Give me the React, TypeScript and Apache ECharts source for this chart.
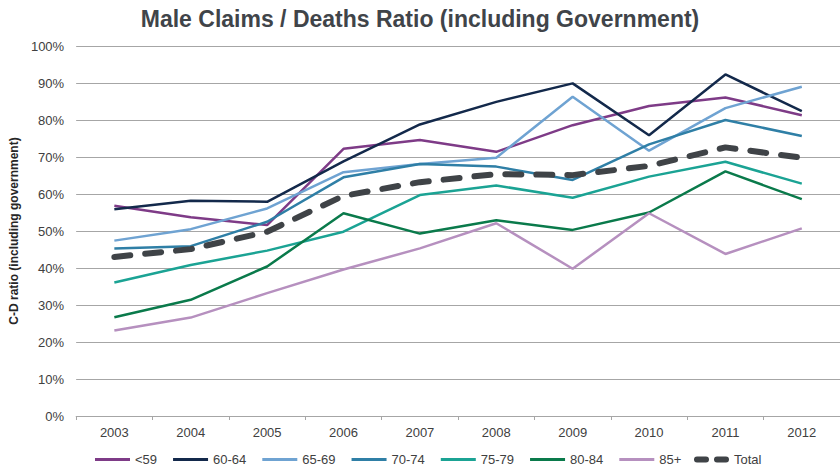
import React, { useEffect, useRef } from "react";
import * as echarts from "echarts";

const years = ["2003", "2004", "2005", "2006", "2007", "2008", "2009", "2010", "2011", "2012"];
const seriesNames = ["<59", "60-64", "65-69", "70-74", "75-79", "80-84", "85+", "Total"];
const under59 = [56.8, 53.7, 51.6, 72.2, 74.6, 71.4, 78.6, 83.8, 86.1, 81.3];
const age60_64 = [55.9, 58.2, 57.9, 68.8, 78.8, 84.9, 89.9, 75.9, 92.3, 82.4];
const age65_69 = [47.4, 50.5, 56.1, 65.9, 68.1, 69.8, 86.3, 71.7, 83.2, 89.0];
const age70_74 = [45.3, 45.9, 52.5, 64.5, 68.1, 67.4, 63.8, 73.4, 80.0, 75.7];
const age75_79 = [36.1, 40.8, 44.7, 49.8, 59.7, 62.3, 59.0, 64.7, 68.7, 62.8];
const age80_84 = [26.7, 31.4, 40.4, 54.8, 49.3, 52.9, 50.3, 55.0, 66.1, 58.6];
const age85plus = [23.1, 26.6, 33.2, 39.6, 45.3, 52.1, 39.8, 54.8, 43.8, 50.7];
const total = [43.0, 45.1, 49.8, 59.5, 63.2, 65.4, 65.1, 67.6, 72.6, 69.8];
const yTicks = { min: 0, max: 100, interval: 10 };

const colors = ["#7E3B87", "#13294B", "#6FA3D2", "#2F7FA6", "#1BA394", "#0A7A4B", "#B690BF", "#3F4347"];
const FONT = "'Liberation Sans', Arial, sans-serif";
const DASH_ICON =
  "path://M3,0 H12 A3,3 0 0 1 12,6 H3 A3,3 0 0 1 3,0 Z M23,0 H32 A3,3 0 0 1 32,6 H23 A3,3 0 0 1 23,0 Z";

export default function App() {
  const ref = useRef<HTMLDivElement>(null);
  useEffect(() => {
    if (!ref.current) return;
    const chart = echarts.init(ref.current, undefined, { renderer: "svg" });
    const data = [under59, age60_64, age65_69, age70_74, age75_79, age80_84, age85plus, total];
    const series = data.map((d, i) => {
      const isTotal = i === 7;
      return {
        name: seriesNames[i],
        type: "line",
        data: d,
        symbol: "none",
        showSymbol: false,
        z: isTotal ? 10 : 2 + i,
        lineStyle: isTotal
          ? { color: colors[i], width: 6, type: [16, 15], cap: "round" }
          : { color: colors[i], width: 2.5 },
        itemStyle: { color: colors[i] },
      };
    });
    const legendText = { fontFamily: FONT, fontSize: 13, color: "#404040" };
    chart.setOption({
      animation: false,
      textStyle: { fontFamily: FONT },
      title: {
        text: "Male Claims / Deaths Ratio (including Government)",
        left: "center",
        top: 2,
        textStyle: { fontFamily: FONT, fontSize: 23, fontWeight: "bold", color: "#404449" },
      },
      grid: { left: 73, top: 46, width: 775, height: 370, containLabel: false },
      legend: [
        {
          data: seriesNames.slice(0, 7).map((n) => ({ name: n, icon: "rect" })),
          left: 95,
          top: 453,
          itemWidth: 35,
          itemHeight: 3,
          itemGap: 16,
          padding: 0,
          textStyle: legendText,
        },
        {
          data: [{ name: "Total", icon: DASH_ICON }],
          left: 694,
          top: 453,
          itemWidth: 35,
          itemHeight: 6,
          padding: 0,
          textStyle: legendText,
        },
      ],
      xAxis: {
        type: "category",
        data: years,
        boundaryGap: true,
        axisLine: { lineStyle: { color: "#A6A6A6", width: 1 } },
        axisTick: { show: true, length: 4, lineStyle: { color: "#A6A6A6" } },
        axisLabel: { fontFamily: FONT, fontSize: 13, color: "#404040", margin: 10 },
      },
      yAxis: {
        type: "value",
        min: yTicks.min,
        max: yTicks.max,
        interval: yTicks.interval,
        name: "C-D ratio (including government)",
        nameLocation: "middle",
        nameGap: 46,
        nameTextStyle: { fontFamily: FONT, fontSize: 12, fontWeight: "bold", color: "#262626" },
        axisLine: { show: false },
        axisTick: { show: false },
        axisLabel: { formatter: "{value}%", fontFamily: FONT, fontSize: 13, color: "#404040", margin: 12 },
        splitLine: { lineStyle: { color: "#A6A6A6", width: 1 } },
      },
      series,
    });
    return () => chart.dispose();
  }, []);
  return (
    <div
      ref={ref}
      style={{ position: "absolute", left: 0, top: 0, width: 840, height: 469, background: "#fff" }}
    />
  );
}
